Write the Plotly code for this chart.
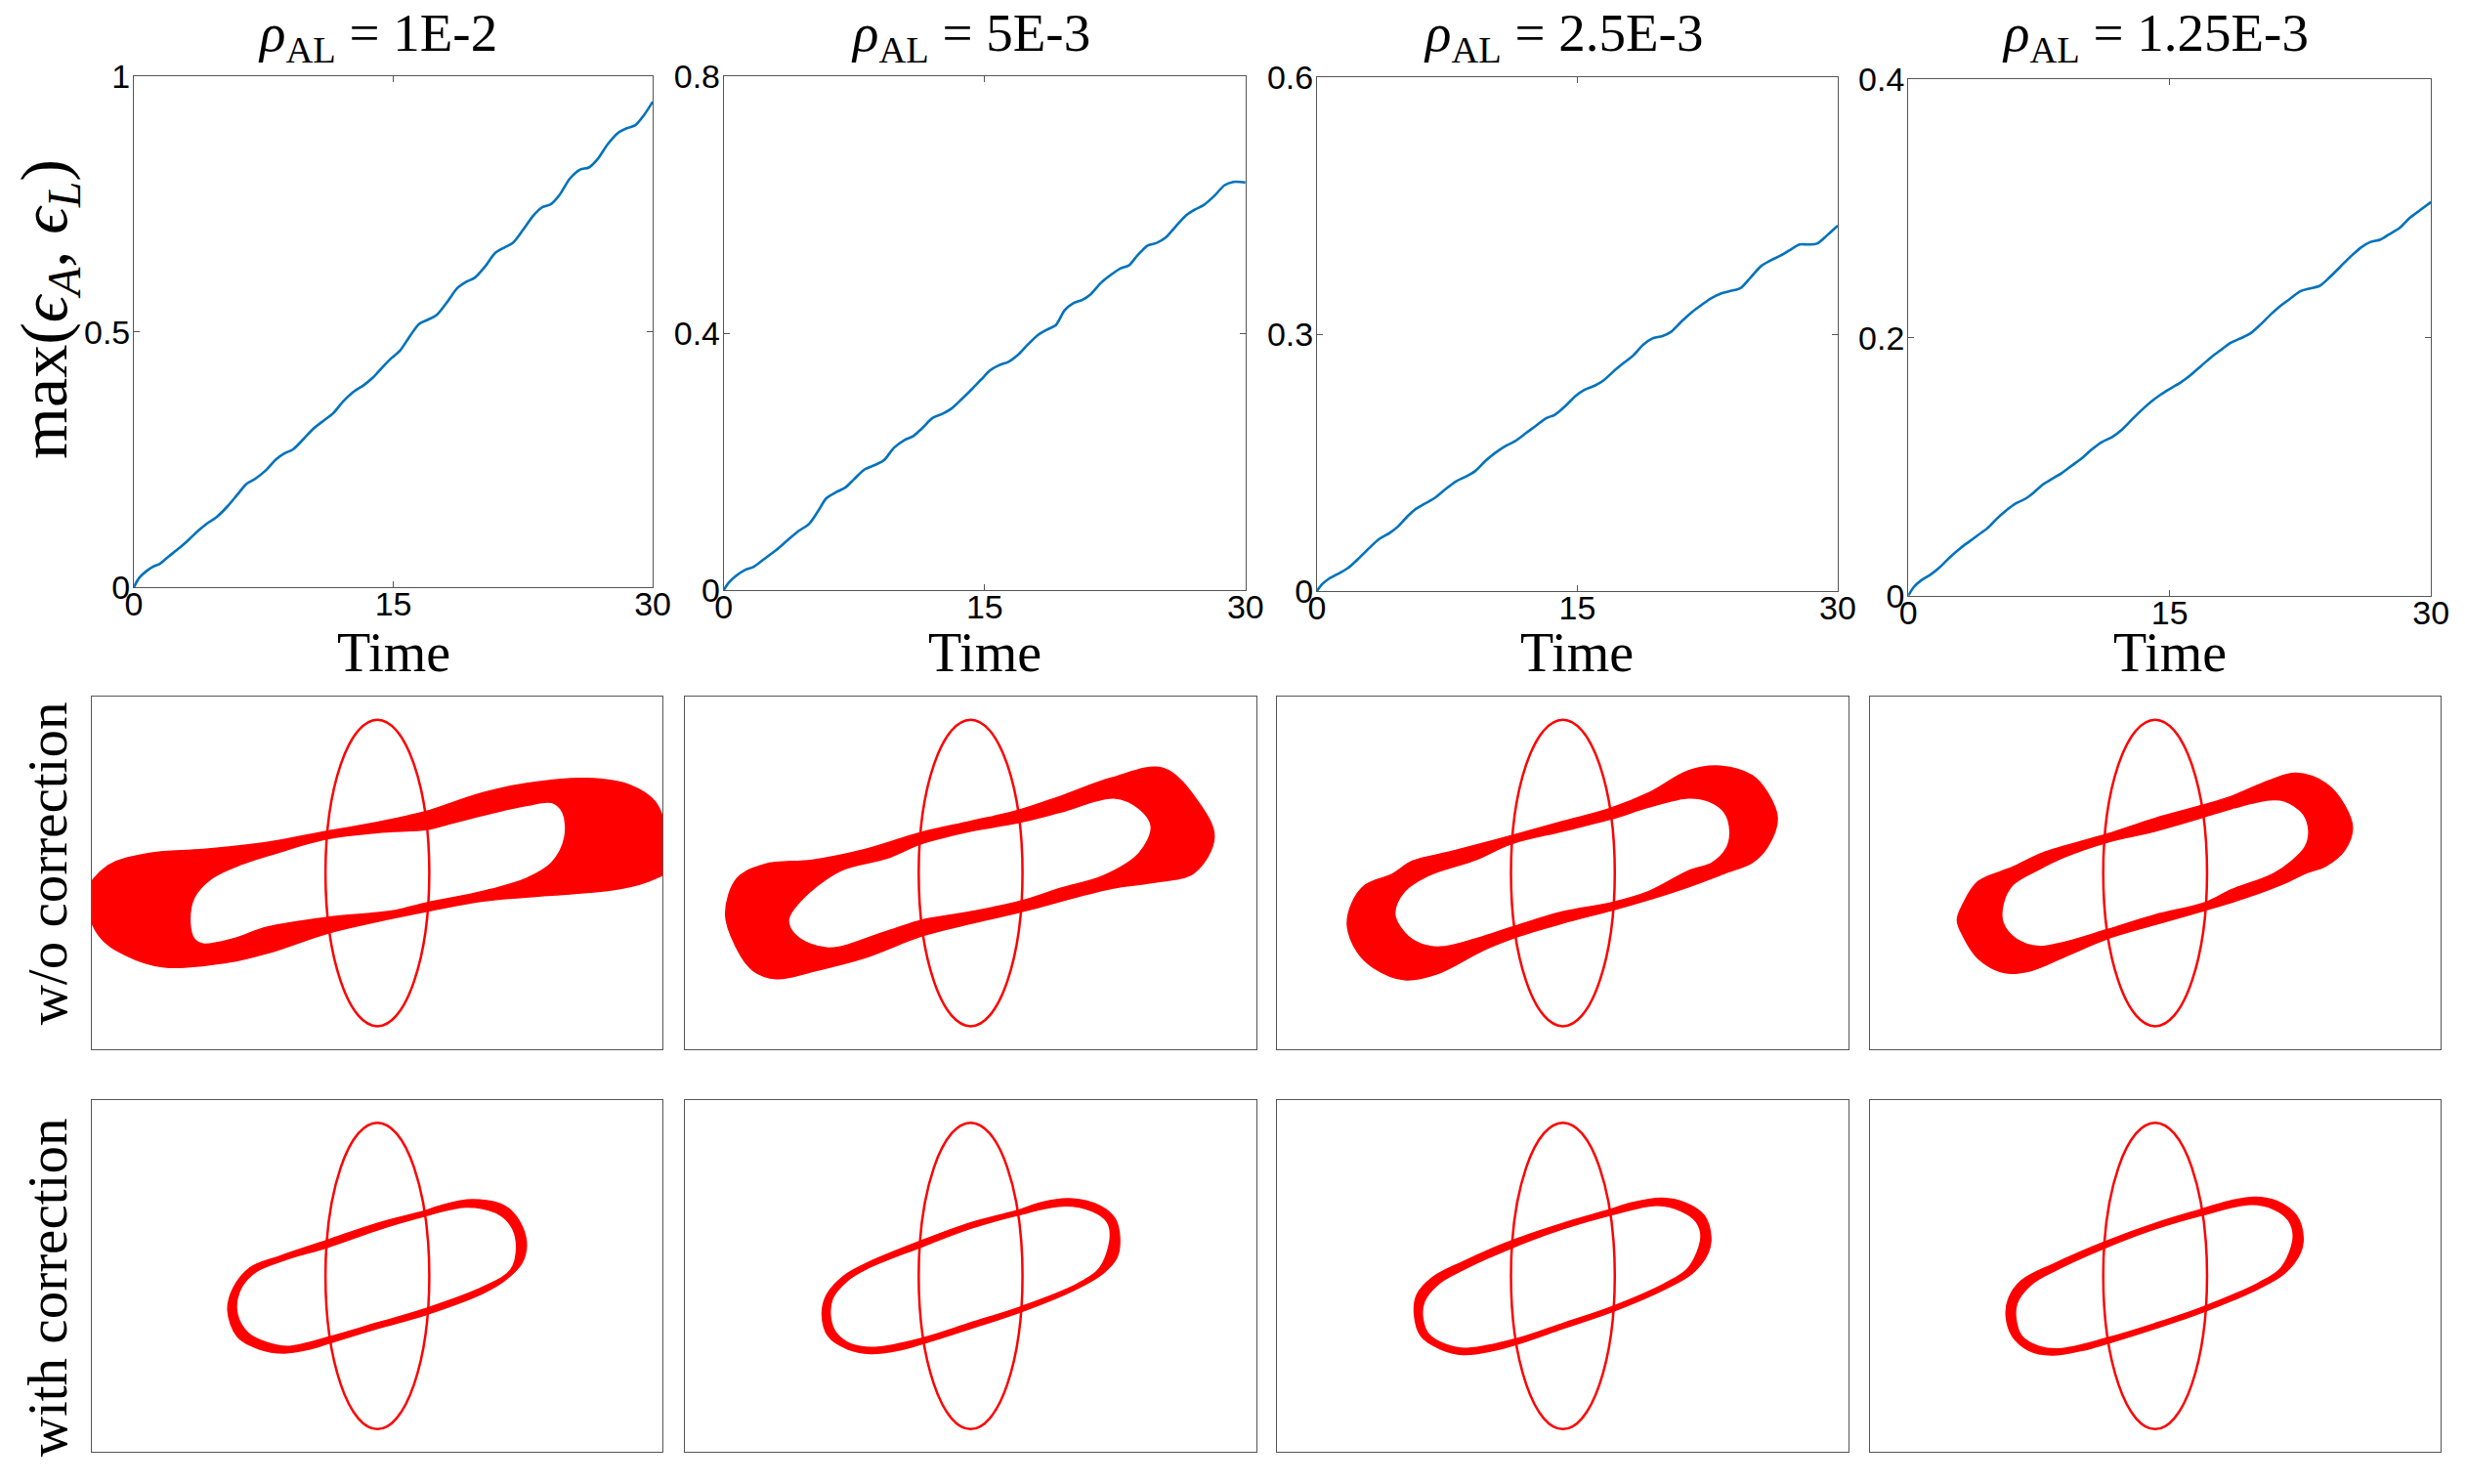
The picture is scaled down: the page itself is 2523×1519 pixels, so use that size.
import plotly.graph_objects as go

W, H = 2523, 1519

# ---------------- top row: error vs time ----------------
T1 = [0, 0.3, 0.7, 1.1, 1.5, 2.0, 2.6, 3.2, 3.7, 4.2, 4.8, 5.4, 6.0, 6.5, 7.0, 7.6, 8.2, 8.7, 9.2, 9.8, 10.4, 11.0, 11.5, 12.1, 12.7, 13.3, 13.8, 14.4, 14.9, 15.4, 16.0, 16.5, 17.0, 17.5, 18.1, 18.7, 19.2, 19.7, 20.3, 20.9, 21.4, 21.9, 22.5, 23.1, 23.6, 24.1, 24.6, 25.2, 25.8, 26.3, 26.8, 27.4, 28.0, 28.5, 29.0, 29.5, 30]
E1 = [0, 0.018, 0.031, 0.040, 0.046, 0.060, 0.076, 0.094, 0.110, 0.124, 0.138, 0.158, 0.182, 0.202, 0.212, 0.228, 0.250, 0.262, 0.270, 0.290, 0.311, 0.327, 0.340, 0.364, 0.383, 0.396, 0.410, 0.432, 0.449, 0.464, 0.494, 0.516, 0.524, 0.533, 0.558, 0.586, 0.598, 0.606, 0.628, 0.655, 0.665, 0.674, 0.700, 0.728, 0.744, 0.750, 0.768, 0.800, 0.818, 0.822, 0.838, 0.868, 0.890, 0.899, 0.905, 0.925, 0.951]

T2 = [0, 0.3, 0.7, 1.2, 1.7, 2.3, 3.0, 3.6, 4.3, 4.9, 5.4, 5.9, 6.5, 7.0, 7.5, 8.1, 8.7, 9.2, 9.8, 10.4, 10.9, 11.4, 12.0, 12.6, 13.1, 13.7, 14.3, 14.8, 15.3, 15.8, 16.4, 16.9, 17.5, 18.1, 18.6, 19.1, 19.6, 20.1, 20.6, 21.1, 21.7, 22.3, 22.8, 23.3, 23.8, 24.4, 24.9, 25.4, 26.0, 26.6, 27.1, 27.6, 28.2, 28.8, 29.3, 29.7, 30]
E2 = [0, 0.012, 0.022, 0.031, 0.036, 0.048, 0.062, 0.076, 0.092, 0.103, 0.122, 0.143, 0.153, 0.160, 0.173, 0.188, 0.195, 0.202, 0.222, 0.234, 0.240, 0.252, 0.268, 0.275, 0.283, 0.298, 0.314, 0.328, 0.342, 0.350, 0.356, 0.366, 0.383, 0.398, 0.406, 0.413, 0.436, 0.447, 0.452, 0.461, 0.479, 0.492, 0.501, 0.506, 0.522, 0.537, 0.541, 0.549, 0.567, 0.584, 0.593, 0.600, 0.614, 0.631, 0.636, 0.636, 0.635]

T3 = [0, 0.3, 0.7, 1.3, 1.8, 2.4, 3.0, 3.6, 4.2, 4.7, 5.2, 5.7, 6.2, 6.8, 7.4, 8.0, 8.6, 9.1, 9.7, 10.3, 10.9, 11.4, 12.0, 12.6, 13.2, 13.7, 14.3, 14.9, 15.4, 16.0, 16.5, 17.1, 17.7, 18.2, 18.8, 19.3, 19.9, 20.4, 21.0, 21.6, 22.2, 22.7, 23.3, 23.9, 24.4, 25.0, 25.6, 26.1, 26.7, 27.2, 27.8, 28.3, 28.8, 29.4, 30]
E3 = [0, 0.008, 0.0145, 0.021, 0.027, 0.038, 0.050, 0.061, 0.068, 0.076, 0.087, 0.096, 0.102, 0.109, 0.119, 0.128, 0.134, 0.140, 0.152, 0.162, 0.170, 0.175, 0.184, 0.193, 0.202, 0.206, 0.216, 0.228, 0.235, 0.240, 0.246, 0.257, 0.267, 0.275, 0.288, 0.295, 0.298, 0.303, 0.315, 0.326, 0.335, 0.342, 0.348, 0.351, 0.354, 0.367, 0.380, 0.386, 0.392, 0.398, 0.405, 0.405, 0.406, 0.416, 0.427]

T4 = [0, 0.3, 0.7, 1.3, 1.8, 2.4, 3.0, 3.5, 4.0, 4.6, 5.1, 5.6, 6.1, 6.7, 7.2, 7.7, 8.3, 8.8, 9.4, 10.0, 10.5, 11.1, 11.7, 12.2, 12.8, 13.4, 13.9, 14.5, 15.1, 15.6, 16.2, 16.8, 17.4, 17.9, 18.5, 19.0, 19.6, 20.2, 20.8, 21.3, 21.9, 22.5, 23.0, 23.6, 24.2, 24.8, 25.4, 26.0, 26.5, 27.1, 27.6, 28.2, 28.8, 29.4, 30]
E4 = [0, 0.0065, 0.0115, 0.0166, 0.022, 0.030, 0.037, 0.042, 0.047, 0.053, 0.060, 0.066, 0.071, 0.075, 0.080, 0.086, 0.091, 0.095, 0.101, 0.107, 0.113, 0.119, 0.123, 0.128, 0.136, 0.144, 0.150, 0.156, 0.161, 0.165, 0.171, 0.178, 0.185, 0.190, 0.196, 0.199, 0.203, 0.210, 0.218, 0.224, 0.230, 0.236, 0.238, 0.240, 0.247, 0.255, 0.263, 0.270, 0.274, 0.276, 0.280, 0.285, 0.293, 0.299, 0.305]

RHO_LABELS = ["1E-2", "5E-3", "2.5E-3", "1.25E-3"]
Y_MAX = [1.0, 0.8, 0.6, 0.4]
Y_TICKS = [[0, 0.5, 1], [0, 0.4, 0.8], [0, 0.3, 0.6], [0, 0.2, 0.4]]
Y_TICKTEXT = [["0", "0.5", "1"], ["0", "0.4", "0.8"], ["0", "0.3", "0.6"], ["0", "0.2", "0.4"]]
X_TICKS = [0, 15, 30]

# ---------------- initial ellipse (semi-axes) ----------------
ELL_A = 1.0
ELL_B = 3.0

# ---------------- middle row: w/o correction (outer / inner outline of red band) ----------------
WO1_OUT_X = [5.61, 5.36, 4.86, 4.03, 2.87, 2.03, 1.20, 0.96, 0.00, -0.96, -2.12, -3.36, -4.36, -5.19, -5.61, -5.36, -4.86, -4.11, -2.95, -2.12, -0.96, 0.00, 0.96, 2.03, 3.28, 4.53, 5.19, 5.61]
WO1_OUT_Y = [0.57, 1.38, 1.72, 1.85, 1.75, 1.57, 1.29, 1.21, 0.99, 0.82, 0.60, 0.46, 0.39, 0.14, -0.42, -1.23, -1.60, -1.84, -1.76, -1.57, -1.18, -0.95, -0.75, -0.55, -0.44, -0.33, -0.17, 0.07]
WO1_IN_X = [3.61, 3.57, 3.36, 2.87, 2.03, 1.20, 0.96, 0.00, -0.96, -1.95, -2.62, -3.20, -3.53, -3.61, -3.53, -3.36, -2.78, -2.12, -0.96, 0.00, 0.37, 0.96, 2.03, 2.87, 3.36]
WO1_IN_Y = [0.70, 1.19, 1.38, 1.32, 1.13, 0.91, 0.85, 0.79, 0.67, 0.39, 0.17, -0.11, -0.48, -0.98, -1.29, -1.39, -1.29, -1.06, -0.87, -0.78, -0.73, -0.58, -0.36, -0.11, 0.20]

WO2_OUT_X = [4.69, 4.39, 3.71, 2.72, 1.73, 0.90, 0.00, -0.96, -2.07, -3.05, -3.96, -4.50, -4.72, -4.53, -4.19, -3.74, -2.98, -2.07, -0.93, 0.00, 0.97, 2.72, 3.48, 4.31]
WO2_OUT_Y = [0.70, 1.38, 2.05, 1.86, 1.50, 1.22, 1.01, 0.79, 0.45, 0.25, 0.17, -0.11, -0.80, -1.42, -1.91, -2.07, -1.91, -1.67, -1.23, -0.99, -0.76, -0.30, -0.19, 0.01]
WO2_IN_X = [3.48, 3.25, 2.76, 1.73, 0.90, 0.00, -0.96, -1.61, -2.52, -3.28, -3.51, -3.36, -2.75, -1.61, -0.93, 0.00, 0.97, 1.73, 2.57, 3.25]
WO2_IN_Y = [0.91, 1.26, 1.47, 1.19, 0.98, 0.82, 0.57, 0.29, 0.04, -0.55, -0.92, -1.23, -1.47, -1.14, -0.92, -0.76, -0.55, -0.30, -0.05, 0.39]

WO3_OUT_X = [4.13, 3.94, 3.64, 3.03, 2.42, 1.66, 0.90, 0.00, -1.00, -2.14, -2.90, -3.28, -3.81, -4.07, -4.15, -3.96, -3.65, -3.05, -2.44, -1.53, -0.92, 0.00, 0.94, 1.66, 2.42, 3.18, 3.64, 3.94]
WO3_OUT_Y = [1.07, 1.57, 1.91, 2.09, 2.00, 1.57, 1.26, 1.01, 0.73, 0.42, 0.23, -0.02, -0.24, -0.61, -1.04, -1.54, -1.85, -2.09, -1.98, -1.51, -1.26, -0.98, -0.73, -0.52, -0.27, 0.02, 0.20, 0.51]
WO3_IN_X = [3.22, 3.11, 2.80, 2.42, 1.66, 0.94, 0.00, -1.00, -1.68, -2.59, -3.05, -3.24, -3.05, -2.74, -2.36, -1.68, -0.92, 0.00, 0.94, 1.66, 2.42, 2.88, 3.15]
WO3_IN_Y = [0.82, 1.19, 1.41, 1.47, 1.29, 1.06, 0.82, 0.57, 0.26, -0.05, -0.36, -0.80, -1.17, -1.39, -1.45, -1.29, -1.04, -0.76, -0.58, -0.36, 0.04, 0.20, 0.48]

WO4_OUT_X = [3.80, 3.65, 3.29, 2.71, 2.20, 1.47, 0.89, 0.00, -0.93, -2.17, -2.75, -3.41, -3.70, -3.81, -3.70, -3.41, -2.90, -2.39, -1.66, -0.93, 0.00, 0.96, 1.76, 2.56, 2.93, 3.29, 3.65]
WO4_OUT_Y = [0.88, 1.32, 1.75, 1.95, 1.81, 1.50, 1.32, 1.07, 0.76, 0.39, 0.11, -0.17, -0.61, -0.92, -1.23, -1.67, -1.95, -1.91, -1.60, -1.29, -1.01, -0.73, -0.48, -0.17, 0.01, 0.14, 0.45]
WO4_IN_X = [2.96, 2.85, 2.49, 2.20, 1.47, 0.89, 0.00, -0.93, -1.73, -2.24, -2.75, -2.93, -2.93, -2.68, -2.24, -1.73, -0.93, 0.00, 0.96, 1.47, 2.27, 2.63, 2.89]
WO4_IN_Y = [0.82, 1.16, 1.41, 1.43, 1.26, 1.08, 0.82, 0.60, 0.32, 0.07, -0.24, -0.61, -0.98, -1.29, -1.44, -1.35, -1.11, -0.82, -0.58, -0.33, -0.02, 0.23, 0.51]

# ---------------- bottom row: with correction ----------------
WC1_OUT_X = [2.87, 2.74, 2.45, 1.83, 1.20, 0.91, 0.00, -0.96, -1.87, -2.45, -2.78, -2.88, -2.70, -2.28, -1.79, -1.29, -0.91, 0.00, 0.96, 2.03, 2.45, 2.78]
WC1_OUT_Y = [0.62, 1.06, 1.37, 1.49, 1.37, 1.27, 1.03, 0.70, 0.39, 0.16, -0.25, -0.68, -1.18, -1.43, -1.51, -1.43, -1.31, -1.03, -0.75, -0.34, -0.09, 0.25]
WC1_IN_X = [2.68, 2.57, 2.28, 1.70, 0.91, 0.00, -0.96, -1.79, -2.37, -2.66, -2.70, -2.49, -2.12, -1.70, -0.91, 0.00, 0.96, 2.03, 2.57]
WC1_IN_Y = [0.62, 0.99, 1.24, 1.35, 1.17, 0.90, 0.56, 0.31, 0.06, -0.31, -0.75, -1.12, -1.31, -1.38, -1.19, -0.92, -0.63, -0.22, 0.12]

WC2_OUT_X = [2.87, 2.78, 2.49, 1.90, 1.38, 0.87, 0.00, -0.97, -2.00, -2.44, -2.77, -2.86, -2.74, -2.37, -1.93, -1.41, -0.90, 0.00, 0.98, 2.05, 2.56, 2.82]
WC2_OUT_Y = [0.75, 1.12, 1.37, 1.51, 1.44, 1.27, 1.04, 0.68, 0.25, 0.00, -0.37, -0.75, -1.18, -1.43, -1.52, -1.46, -1.32, -1.03, -0.70, -0.25, 0.06, 0.37]
WC2_IN_X = [2.69, 2.63, 2.34, 1.82, 0.87, 0.00, -0.97, -2.00, -2.37, -2.66, -2.70, -2.59, -2.30, -1.85, -0.90, 0.00, 0.98, 2.05, 2.49]
WC2_IN_Y = [0.75, 1.06, 1.27, 1.37, 1.18, 0.93, 0.56, 0.14, -0.09, -0.44, -0.81, -1.12, -1.34, -1.40, -1.21, -0.92, -0.60, -0.16, 0.16]

WC3_OUT_X = [2.85, 2.72, 2.35, 1.91, 1.32, 0.88, 0.00, -0.96, -1.92, -2.51, -2.81, -2.86, -2.73, -2.36, -1.92, -1.33, -0.89, 0.00, 0.95, 1.98, 2.50, 2.79]
WC3_OUT_Y = [0.75, 1.18, 1.43, 1.52, 1.43, 1.29, 1.03, 0.70, 0.28, -0.03, -0.37, -0.75, -1.18, -1.43, -1.54, -1.46, -1.34, -1.03, -0.70, -0.25, 0.06, 0.44]
WC3_IN_X = [2.66, 2.57, 2.28, 1.83, 0.88, 0.00, -0.96, -1.92, -2.40, -2.67, -2.70, -2.58, -2.25, -1.85, -0.89, 0.00, 0.95, 1.98, 2.42]
WC3_IN_Y = [0.75, 1.06, 1.27, 1.38, 1.18, 0.92, 0.56, 0.12, -0.16, -0.50, -0.84, -1.15, -1.35, -1.42, -1.23, -0.93, -0.60, -0.14, 0.16]

WC4_OUT_X = [2.85, 2.72, 2.35, 1.92, 1.41, 0.91, 0.00, -0.94, -1.92, -2.57, -2.82, -2.87, -2.75, -2.43, -1.99, -1.41, -0.91, 0.00, 0.94, 1.99, 2.50, 2.79]
WC4_OUT_Y = [0.75, 1.18, 1.46, 1.54, 1.46, 1.31, 1.03, 0.68, 0.25, -0.09, -0.44, -0.78, -1.18, -1.46, -1.55, -1.46, -1.32, -1.03, -0.70, -0.25, 0.06, 0.44]
WC4_IN_X = [2.66, 2.57, 2.28, 1.85, 0.91, 0.00, -0.94, -1.92, -2.39, -2.66, -2.68, -2.57, -2.24, -1.85, -0.91, 0.00, 0.94, 1.99, 2.43]
WC4_IN_Y = [0.75, 1.09, 1.31, 1.40, 1.19, 0.92, 0.56, 0.11, -0.17, -0.53, -0.87, -1.18, -1.38, -1.43, -1.21, -0.93, -0.60, -0.14, 0.16]

ROW_LABELS = ["w/o correction", "with correction"]

# ---------------- layout geometry (pixels) ----------------
TOP_BOX = [(129.5, 666.5, 61, 597), (740, 1280, 61, 600), (1354, 1893, 62, 601), (1966, 2507, 64, 606)]
COL_X = [(86, 677), (700, 1291), (1313, 1904), (1926, 2517)]
MID_Y = (712, 1082)
BOT_Y = (1135, 1505)
ROW_LABEL_Y = [887, 1332]
SX = (-5.5, 5.5)
SY = (-3.45, 3.45)

RED = "#ff0000"
BLUE = "#0072BD"
AXC = "#555555"
SANS = "Liberation Sans, Arial, sans-serif"
SERIF = "Liberation Serif, DejaVu Serif, serif"


def xd(x0, x1):
    return [x0 / W, x1 / W]


def yd(y0, y1):
    return [1 - y1 / H, 1 - y0 / H]


def closed(a):
    return list(a) + [a[0]]


fig = go.Figure()
layout = dict(width=W, height=H, margin=dict(l=0, r=0, t=0, b=0),
              paper_bgcolor="white", plot_bgcolor="white", showlegend=False)
shapes = []
annotations = []

top_series = [(T1, E1), (T2, E2), (T3, E3), (T4, E4)]
bands = [
    [(WO1_OUT_X, WO1_OUT_Y, WO1_IN_X, WO1_IN_Y), (WO2_OUT_X, WO2_OUT_Y, WO2_IN_X, WO2_IN_Y),
     (WO3_OUT_X, WO3_OUT_Y, WO3_IN_X, WO3_IN_Y), (WO4_OUT_X, WO4_OUT_Y, WO4_IN_X, WO4_IN_Y)],
    [(WC1_OUT_X, WC1_OUT_Y, WC1_IN_X, WC1_IN_Y), (WC2_OUT_X, WC2_OUT_Y, WC2_IN_X, WC2_IN_Y),
     (WC3_OUT_X, WC3_OUT_Y, WC3_IN_X, WC3_IN_Y), (WC4_OUT_X, WC4_OUT_Y, WC4_IN_X, WC4_IN_Y)],
]

idx = 0
# top row
for c in range(4):
    idx += 1
    xa = "xaxis" if idx == 1 else f"xaxis{idx}"
    ya = "yaxis" if idx == 1 else f"yaxis{idx}"
    x0, x1, y0, y1 = TOP_BOX[c]
    layout[xa] = dict(domain=xd(x0, x1), anchor=f"y{idx}", range=[0, 30], tickvals=X_TICKS,
                      ticktext=[str(v) for v in X_TICKS], ticks="inside", ticklen=6, tickcolor=AXC,
                      showline=True, linecolor=AXC, linewidth=1, mirror="allticks", showgrid=False,
                      zeroline=False, ticklabelstandoff=-13,
                      tickfont=dict(family=SANS, size=34, color="black"))
    layout[ya] = dict(domain=yd(y0, y1), anchor=f"x{idx}", range=[0, Y_MAX[c]], tickvals=Y_TICKS[c],
                      ticktext=Y_TICKTEXT[c], ticks="inside", ticklen=6, tickcolor=AXC,
                      showline=True, linecolor=AXC, linewidth=1, mirror="allticks", showgrid=False,
                      zeroline=False, ticklabelstandoff=-4,
                      tickfont=dict(family=SANS, size=34, color="black"))
    t, e = top_series[c]
    fig.add_trace(go.Scatter(x=t, y=e, mode="lines", line=dict(color=BLUE, width=2.6, shape="spline", smoothing=0.8),
                             xaxis=f"x{idx}", yaxis=f"y{idx}", cliponaxis=False))
    cx = (COL_X[c][0] + COL_X[c][1]) / 2
    annotations.append(dict(text=f"<i>ρ</i><sub>AL</sub> = {RHO_LABELS[c]}", x=cx / W, y=1 - 19 / H,
                            xref="paper", yref="paper", showarrow=False, xanchor="center", yanchor="middle",
                            font=dict(family=SERIF, size=55, color="black")))
    annotations.append(dict(text="Time", x=(x0 + x1) / 2 / W, y=1 - 666 / H, xref="paper", yref="paper",
                            showarrow=False, xanchor="center", yanchor="middle",
                            font=dict(family=SERIF, size=56, color="black")))

# shape rows
for r, (ry0, ry1) in enumerate([MID_Y, BOT_Y]):
    for c in range(4):
        idx += 1
        xa = f"xaxis{idx}"
        ya = f"yaxis{idx}"
        layout[xa] = dict(domain=xd(*COL_X[c]), anchor=f"y{idx}", range=list(SX), showticklabels=False,
                          ticks="", showline=True, linecolor=AXC, linewidth=1, mirror=True,
                          showgrid=False, zeroline=False)
        layout[ya] = dict(domain=yd(ry0, ry1), anchor=f"x{idx}", range=list(SY), showticklabels=False,
                          ticks="", showline=True, linecolor=AXC, linewidth=1, mirror=True,
                          showgrid=False, zeroline=False)
        ox, oy, ix, iy = bands[r][c]
        fig.add_trace(go.Scatter(x=closed(ox), y=closed(oy), mode="lines", fill="toself", fillcolor=RED,
                                 line=dict(color=RED, width=1.5, shape="spline", smoothing=1.0),
                                 xaxis=f"x{idx}", yaxis=f"y{idx}"))
        fig.add_trace(go.Scatter(x=closed(ix), y=closed(iy), mode="lines", fill="toself", fillcolor="white",
                                 line=dict(color=RED, width=1.5, shape="spline", smoothing=1.0),
                                 xaxis=f"x{idx}", yaxis=f"y{idx}"))
        shapes.append(dict(type="circle", xref=f"x{idx}", yref=f"y{idx}", x0=-ELL_A, x1=ELL_A,
                           y0=-ELL_B, y1=ELL_B, line=dict(color=RED, width=2.5), layer="above"))
    annotations.append(dict(text=ROW_LABELS[r], x=40 / W, y=1 - ROW_LABEL_Y[r] / H, xref="paper",
                            yref="paper", showarrow=False, textangle=-90, xanchor="center", yanchor="middle",
                            font=dict(family=SERIF, size=57, color="black")))

annotations.append(dict(text="max(<i>ϵ</i><sub><i>A</i></sub>, <i>ϵ</i><sub><i>L</i></sub>)",
                        x=41 / W, y=1 - 305 / H, xref="paper", yref="paper", showarrow=False,
                        textangle=-90, xanchor="center", yanchor="middle",
                        font=dict(family=SERIF, size=68, color="black")))

layout["shapes"] = shapes
layout["annotations"] = annotations
fig.update_layout(**layout)
fig.write_html("out.html")
